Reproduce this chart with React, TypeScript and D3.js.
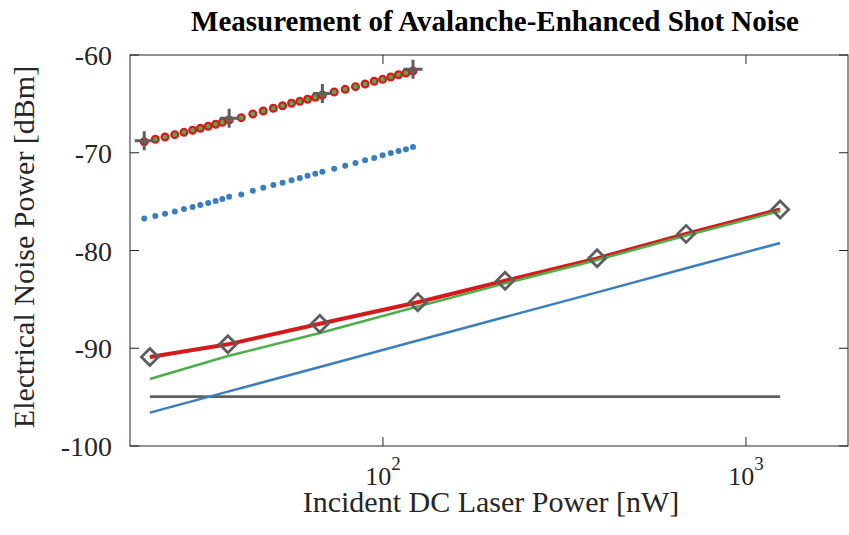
import React from "react";
import * as d3 from "d3";

// ---- Data ----
// Power sweep (nW) for the dense dotted measurements
const sweepPower = [22.0, 23.6, 25.1, 26.7, 28.3, 29.9, 31.4, 33.0, 34.6, 36.1, 37.7, 40.7, 43.8, 46.8, 49.9, 52.9, 56.0, 59.0, 62.0, 65.1, 68.1, 73.4, 78.7, 84.0, 89.3, 94.6, 99.8, 105.1, 110.4, 115.7, 121.0];
const sweepTotalNoise = [-68.87, -68.62, -68.39, -68.15, -67.91, -67.7, -67.5, -67.29, -67.09, -66.89, -66.65, -66.41, -66.04, -65.73, -65.45, -65.19, -64.94, -64.74, -64.53, -64.33, -64.09, -63.79, -63.51, -63.24, -62.97, -62.69, -62.49, -62.25, -62.02, -61.84, -61.64];
const sweepShotNoise = [-76.72, -76.47, -76.24, -76.0, -75.76, -75.55, -75.35, -75.14, -74.94, -74.74, -74.5, -74.26, -73.89, -73.58, -73.3, -73.06, -72.82, -72.58, -72.35, -72.14, -71.94, -71.63, -71.32, -71.05, -70.77, -70.54, -70.26, -70.02, -69.82, -69.65, -69.41];

// Discrete "+" measurements
const plusPower = [22.0, 37.7, 68.1, 121.0];
const plusNoise = [-68.77, -66.48, -63.94, -61.46];

// Lower family of curves
const curvePower = [22.8, 37.4, 67.0, 124.7, 217, 389, 684, 1242];
const measuredNoise = [-90.9, -89.6, -87.5, -85.3, -83.1, -80.8, -78.3, -75.8];
const modelNoise = [-93.15, -90.79, -88.44, -85.73, -83.36, -80.97, -78.47, -75.96];
const shotNoise = [-96.59, -94.44, -91.91, -89.21, -86.81, -84.28, -81.82, -79.23];
const thermalNoise = [-94.95, -94.95, -94.95, -94.95, -94.95, -94.95, -94.95, -94.95];

// Axes
const yTicks = [-60, -70, -80, -90, -100];
const xTicks = [100, 1000];
const xTickExp = ["2", "3"];

const TITLE = "Measurement of Avalanche-Enhanced Shot Noise";
const XLABEL = "Incident DC Laser Power [nW]";
const YLABEL = "Electrical Noise Power [dBm]";

const RED = "#d7191c";
const GREEN = "#4daf4a";
const BLUE = "#3a7ec0";
const GRAY = "#5e5e5e";
const AXIS = "#262626";
const FONT = "'Liberation Serif', 'Times New Roman', serif";

export default function App() {
  const W = 849, H = 535;
  const L = 130, R = 848, T = 55, B = 446;
  const x = d3.scaleLog().domain([20.1, 1910]).range([L, R]);
  const y = d3.scaleLinear().domain([-100, -60]).range([B, T]);

  const mk = (xs: number[], ys: number[]) =>
    d3.line<number>().x((_, i) => x(xs[i])).y((d) => y(d))(ys) || "";

  const tickLen = 9;

  return (
    <svg width={W} height={H} style={{ position: "absolute", left: 0, top: 0, background: "#fff" }} fontFamily={FONT}>
      <rect x={0} y={0} width={W} height={H} fill="#fff" />
      {/* title */}
      <text x={495} y={31} textAnchor="middle" fontWeight="bold" fontSize={29} fill="#000">{TITLE}</text>

      {/* axes box */}
      <rect x={L} y={T} width={R - L} height={B - T} fill="none" stroke={AXIS} strokeWidth={1} />

      {/* y ticks */}
      {yTicks.map((t) => (
        <g key={"y" + t}>
          <line x1={L} x2={L + tickLen} y1={y(t)} y2={y(t)} stroke={AXIS} />
          <line x1={R} x2={R - tickLen} y1={y(t)} y2={y(t)} stroke={AXIS} />
          <text x={112} y={y(t) + 10} textAnchor="end" fontSize={28} fill="#262626">{t}</text>
        </g>
      ))}
      {/* x ticks */}
      {xTicks.map((t, i) => (
        <g key={"x" + t}>
          <line x1={x(t)} x2={x(t)} y1={B} y2={B - tickLen} stroke={AXIS} />
          <line x1={x(t)} x2={x(t)} y1={T} y2={T + tickLen} stroke={AXIS} />
          <text x={x(t)} y={485} textAnchor="middle" fontSize={26} fill="#262626">
            <tspan>10</tspan>
            <tspan dy={-15} fontSize={19}>{xTickExp[i]}</tspan>
          </text>
        </g>
      ))}

      {/* axis labels */}
      <text x={491} y={512} textAnchor="middle" fontSize={30} fill="#262626">{XLABEL}</text>
      <text transform={`translate(34,247) rotate(-90)`} textAnchor="middle" fontSize={30} fill="#262626">{YLABEL}</text>

      {/* lower curves */}
      <path d={mk(curvePower, thermalNoise)} fill="none" stroke={GRAY} strokeWidth={2.8} />
      <path d={mk(curvePower, shotNoise)} fill="none" stroke={BLUE} strokeWidth={2.5} />
      <path d={mk(curvePower, measuredNoise)} fill="none" stroke={RED} strokeWidth={4} />
      <path d={mk(curvePower, modelNoise)} fill="none" stroke={GREEN} strokeWidth={2.5} />
      {curvePower.map((p, i) => {
        const cx = x(p), cy = y(measuredNoise[i]), s = 8.5;
        return (
          <path key={"d" + i} d={`M${cx},${cy - s}L${cx + s},${cy}L${cx},${cy + s}L${cx - s},${cy}Z`} fill="none" stroke={GRAY} strokeWidth={2.8} />
        );
      })}

      {/* dotted sweeps */}
      {sweepPower.map((p, i) => (
        <circle key={"b" + i} cx={x(p)} cy={y(sweepShotNoise[i])} r={3} fill={BLUE} />
      ))}
      {sweepPower.map((p, i) => (
        <circle key={"r" + i} cx={x(p)} cy={y(sweepTotalNoise[i])} r={3.4} fill={GREEN} stroke={RED} strokeWidth={2.2} />
      ))}
      {plusPower.map((p, i) => {
        const cx = x(p), cy = y(plusNoise[i]), s = 9.5;
        return (
          <path key={"p" + i} d={`M${cx - s},${cy}H${cx + s}M${cx},${cy - s}V${cy + s}`} stroke={GRAY} strokeWidth={3} fill="none" />
        );
      })}
    </svg>
  );
}
